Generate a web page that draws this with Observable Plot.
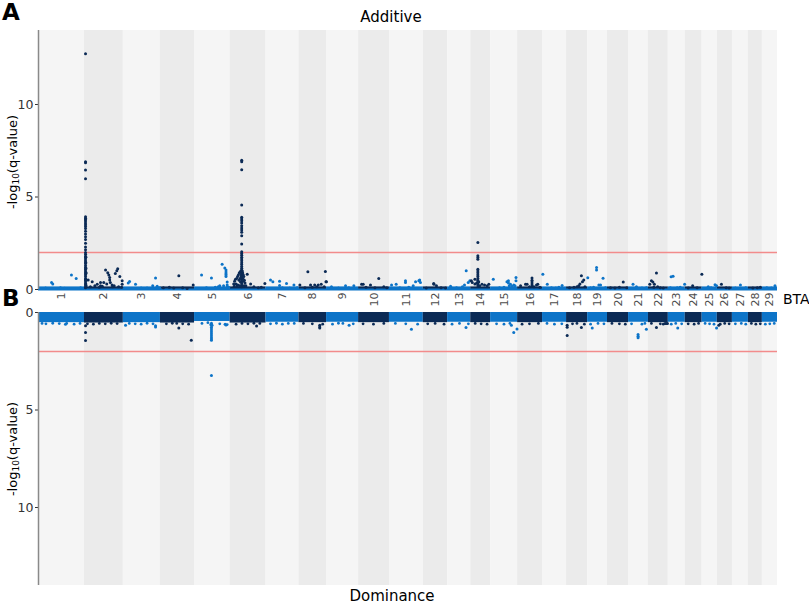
<!DOCTYPE html>
<html><head><meta charset="utf-8">
<script src="https://cdn.jsdelivr.net/npm/d3@7"></script>
<script src="https://cdn.jsdelivr.net/npm/@observablehq/plot@0.6"></script>
<style>
body{margin:0;background:#fff;font-family:"DejaVu Sans",sans-serif;}
#wrap{position:relative;width:809px;height:605px;overflow:hidden;background:#fff;}
.lbl{position:absolute;white-space:nowrap;color:#000;}
.plot{position:absolute;left:0;}
.ylab{position:absolute;white-space:nowrap;font-size:13px;color:#000;transform:translate(-50%,-50%) rotate(-90deg);}
.ylab sub{font-size:9px;vertical-align:-2px;}
</style></head><body>
<div id="wrap">
  <div class="lbl" style="left:2px;top:-1px;font-size:23px;font-weight:bold;">A</div>
  <div class="lbl" style="left:2px;top:285px;font-size:23px;font-weight:bold;">B</div>
  <div class="lbl" style="left:391px;top:8px;font-size:15px;transform:translateX(-50%);">Additive</div>
  <div class="lbl" style="left:392px;top:587px;font-size:15px;transform:translateX(-50%);">Dominance</div>
  <div class="lbl" style="left:783px;top:291px;font-size:14px;">BTA</div>
  <div class="ylab" style="left:13px;top:162px;">-log<sub>10</sub>(q-value)</div>
  <div class="ylab" style="left:13px;top:449px;">-log<sub>10</sub>(q-value)</div>
  <div id="pa" class="plot" style="top:0px;"></div>
  <div id="pb" class="plot" style="top:311px;"></div>
</div>
<script>
// ---------- data ----------
const chroms = [1,2,3,4,5,6,7,8,9,10,11,12,13,14,15,16,17,18,19,20,21,22,23,24,25,26,27,28,29];
const chrLen = [155,131,125,115,120,121,111,93,108,104,114,82,78,67,91,84,81,71,67,71,67,67,57,57,51,51,54,47,51];
const yTicks = [0,5,10];
const threshold = 2;

// peak columns in the additive panel: [chromosome, position]
const peakBTA2 = [2, 3.5];
const peakBTA2Values = [12.74,6.91,6.85,6.46,5.98,3.93,3.85,3.78,3.7,3.6,3.5,3.4,3.3,3.15,3.0,2.85,2.7,2.5,2.3,2.15,2.0,1.9,1.8,1.7,1.6,1.5,1.4,1.3,1.2,1.1,1.0,0.9,0.8,0.7,0.6,0.5,0.4,0.3,0.2,0.1];
const peakBTA6 = [6, 39];
const peakBTA6Values = [6.98,6.9,6.47,4.57,3.9,3.81,3.72,3.59,3.45,3.33,3.21,3.09,2.91,2.46,2.04,1.95,1.85,1.75,1.65,1.55,1.45,1.35,1.25,1.15,1.05,0.95,0.85,0.75,0.65,0.55,0.45,0.35,0.25,0.15];
const peakBTA14 = [14, 24];
const peakBTA14Values = [2.54,1.82,1.73,1.64,1.1,1.0,0.9,0.8,0.7,0.6,0.5,0.4,0.3,0.2];

// other additive SNPs: [chromosome, position, -log10(q)]
const additiveOther = [
 [1,24,0.08],[1,44,0.38],[1,48,0.3],[1,74,0.1],[1,88,0.07],[1,101,0.06],[1,111,0.79],[1,127,0.6],[1,142,0.1],
 [2,4.5,1.75],[2,4.5,1.45],[2,4.5,1.15],[2,4.5,0.85],[2,4.5,0.55],[2,4.5,0.3],[2,5.5,0.9],[2,5.5,0.5],[2,5.5,0.2],
 [2,12.5,0.51],[2,20,0.15],[2,26,0.42],[2,35,0.2],[2,43,0.29],[2,50,0.12],[2,54,0.38],[2,54,0.2],[2,60,0.18],[2,65,0.38],
 [2,71,1.05],[2,75,0.3],[2,78.5,0.9],[2,82,0.78],[2,85,0.65],[2,85,0.51],[2,87,0.38],[2,93,0.25],[2,95,0.15],[2,100,0.2],
 [2,104,0.87],[2,109,1.02],[2,112,1.12],[2,115,0.15],[2,119,0.7],[2,125,0.12],[2,127,0.47],[2,127,0.29],
 [3,16.5,0.35],[3,21,0.43],[3,41,0.29],[3,60,0.08],[3,80,0.08],[3,99,0.2],[3,108.5,0.62],[3,114,0.17],[3,122,0.1],
 [4,10,0.1],[4,30,0.12],[4,45,0.08],[4,62,0.74],[4,75,0.1],[4,90,0.06],[4,110.5,0.25],
 [5,23.6,0.78],[5,40,0.1],[5,57,0.62],[5,70,0.12],[5,80,0.15],[5,85,0.2],[5,93,1.37],[5,98,0.2],[5,102,1.16],
 [5,106,1.05],[5,106,0.95],[5,106,0.85],[5,106,0.78],[5,106,0.7],[5,110,0.4],[5,110,0.25],[5,110,0.15],[5,115,0.12],
 [6,12,0.3],[6,14,0.18],[6,15,0.45],[6,18,0.55],[6,20,0.3],[6,22,0.6],[6,24,0.2],[6,25,0.7],[6,26,0.25],[6,28,0.8],
 [6,30,0.5],[6,31,0.9],[6,32,0.2],[6,33,0.6],[6,34,0.95],[6,35,0.4],[6,36,1.0],[6,37,0.7],[6,38,0.8],[6,40,0.85],
 [6,41,1.0],[6,42,0.9],[6,43,0.6],[6,44,0.8],[6,45,0.45],[6,46,0.7],[6,47,0.2],[6,48,0.5],[6,50,0.35],[6,53,0.2],
 [6,57.6,0.83],[6,69,0.3],[6,80,0.15],[6,95,0.1],[6,105,0.12],[6,117,0.33],
 [7,15,0.51],[7,23,0.42],[7,45.5,0.45],[7,45.5,0.22],[7,55,0.1],[7,69,0.33],[7,80,0.08],[7,94,0.24],[7,105,0.1],
 [8,3,0.24],[8,20,0.1],[8,30,0.96],[8,39,0.25],[8,45,0.12],[8,53,0.24],[8,60,0.15],[8,65,0.24],[8,75,0.29],[8,85,0.15],[8,89,0.97],[8,91,0.42],[8,92.5,0.42],
 [9,16.5,0.15],[9,40,0.08],[9,64,0.2],[9,75,0.1],[9,92,0.2],
 [10,10,0.29],[10,15.5,0.29],[10,25,0.12],[10,40,0.25],[10,55,0.1],[10,68,0.6],[10,85,0.15],[10,95,0.1],
 [11,7,0.25],[11,22.6,0.29],[11,35,0.1],[11,54,0.47],[11,54,0.38],[11,65,0.12],[11,80,0.2],[11,88,0.42],[11,99,0.47],[11,102,0.51],[11,104.5,0.38],
 [12,10,0.08],[12,35,0.33],[12,36,0.29],[12,44.5,0.2],[12,60,0.1],[12,75,0.08],
 [13,10,0.18],[13,30,0.1],[13,50,0.15],[13,57,0.25],[13,62.7,1.01],[13,69.5,0.38],[13,75,0.47],
 [14,2,0.47],[14,5,0.38],[14,14,0.56],[14,14,0.3],[14,20,0.35],[14,27,0.4],[14,30,0.2],[14,38,0.29],[14,46.5,0.25],[14,55.6,0.2],[14,61,0.29],
 [15,9,0.56],[15,30,0.1],[15,45,0.12],[15,55,0.42],[15,60,0.47],[15,60,0.35],[15,63,0.2],[15,67,0.29],[15,72,0.18],[15,78,0.25],[15,82,0.2],[15,85.5,0.65],[15,85.5,0.47],
 [16,10,0.2],[16,26.6,0.29],[16,32,0.29],[16,40,0.15],[16,48.5,0.62],[16,48.5,0.5],[16,48.5,0.4],[16,48.5,0.3],[16,48.5,0.2],[16,55,0.15],[16,63.7,0.24],[16,68,0.29],[16,75,0.12],
 [17,1,0.82],[17,16,0.29],[17,30,0.1],[17,45,0.08],[17,55,0.12],[17,66,0.22],
 [18,10,0.1],[18,25,0.12],[18,35,0.15],[18,41,0.2],[18,45,0.3],[18,50,0.74],[18,53.5,0.42],[18,58,0.52],[18,62,0.15],
 [19,0.5,0.63],[19,10,0.1],[19,20,0.12],[19,30,1.19],[19,30,1.05],[19,37.8,0.24],[19,43.5,0.24],[19,52,0.61],[19,60,0.1],
 [20,10,0.1],[20,25,0.08],[20,40,0.12],[20,53,0.4],[20,65,0.1],
 [21,15,0.29],[21,26.6,0.15],[21,45,0.08],[21,60,0.1],
 [22,4.4,0.29],[22,10,0.47],[22,15,0.4],[22,18,0.12],[22,20,0.29],[22,27,0.89],[22,31,0.15],[22,40,0.1],[22,50,0.08],
 [23,7,0.1],[23,9.4,0.69],[23,16,0.71],[23,30,0.1],[23,40,0.12],[23,55,0.29],
 [24,10,0.08],[24,25,0.2],[24,40,0.1],[24,56,0.83],
 [25,20.5,0.15],[25,30,0.1],[25,43.5,0.26],[25,48.5,0.2],
 [26,14,0.29],[26,30,0.1],[26,40,0.08],
 [27,10,0.08],[27,27,0.24],[27,45,0.1],
 [28,15,0.08],[28,30,0.1],[28,40,0.12],
 [29,15,0.1],[29,30,0.08],[29,42.5,0.2]
];

// dominance panel: depth of the dense band of SNPs per chromosome
const dominanceDepth = [0.52,0.54,0.52,0.54,0.46,0.54,0.5,0.52,0.5,0.52,0.5,0.52,0.5,0.52,0.5,0.52,0.5,0.52,0.5,0.52,0.5,0.52,0.5,0.52,0.5,0.52,0.5,0.52,0.5];
// SNPs along the lower edge of the band: [chromosome, position, -log10(q)]
const dominanceEdge = [
 [1,12,0.56],[1,25,0.58],[1,48,0.55],[1,70,0.57],[1,95,0.56],[1,120,0.6],[1,140,0.56],
 [2,10,0.58],[2,30,0.6],[2,50,0.56],[2,70,0.58],[2,90,0.55],[2,110,0.57],
 [3,20,0.56],[3,40,0.58],[3,60,0.6],[3,80,0.55],[3,100,0.58],
 [4,20,0.58],[4,40,0.55],[4,55,0.56],[4,75,0.58],[4,95,0.6],
 [5,25,0.56],[5,45,0.52],[5,85,0.58],[5,110,0.62],
 [6,20,0.6],[6,40,0.56],[6,60,0.58],[6,80,0.55],[6,100,0.56],
 [7,15,0.58],[7,35,0.55],[7,55,0.6],[7,75,0.56],[7,95,0.56],
 [8,15,0.56],[8,45,0.58],[8,80,0.6],
 [9,20,0.6],[9,40,0.55],[9,55,0.56],[9,90,0.58],
 [10,15,0.58],[10,50,0.6],[10,85,0.56],
 [11,20,0.56],[11,55,0.58],[11,95,0.6],
 [12,15,0.58],[12,40,0.56],[12,70,0.6],
 [13,15,0.6],[13,40,0.56],[13,70,0.58],
 [14,15,0.56],[14,35,0.58],[14,55,0.6],
 [15,20,0.58],[15,45,0.6],[15,65,0.56],
 [16,15,0.6],[16,40,0.58],[16,70,0.56],
 [17,15,0.56],[17,40,0.6],[17,65,0.58],
 [18,20,0.58],[18,35,0.56],[18,60,0.6],
 [19,10,0.6],[19,35,0.56],[19,55,0.58],
 [20,15,0.56],[20,40,0.58],[20,60,0.6],
 [21,10,0.58],[21,45,0.6],[21,55,0.56],
 [22,10,0.56],[22,40,0.58],[22,50,0.6],
 [23,10,0.6],[23,25,0.56],[23,45,0.58],
 [24,10,0.58],[24,30,0.6],[24,45,0.56],
 [25,10,0.56],[25,25,0.58],[25,40,0.6],
 [26,10,0.6],[26,25,0.56],[26,40,0.58],
 [27,10,0.58],[27,30,0.56],[27,45,0.6],
 [28,10,0.56],[28,25,0.6],[28,40,0.58],
 [29,10,0.6],[29,25,0.58],[29,40,0.56]
];
// dominance SNPs below the band: [chromosome, position, -log10(q)]
const dominanceOther = [
 [1,91,0.6],
 [2,3.5,0.68],[2,3.5,1.02],[2,3.5,1.43],
 [3,7.4,0.65],[3,108.5,0.68],[3,108.5,0.74],
 [4,62,0.79],[4,104,1.42],
 [5,57,0.55],[5,57,0.65],[5,57,0.75],[5,57,0.85],[5,57,0.95],[5,57,1.05],[5,57,1.15],[5,57,1.25],[5,57,1.35],[5,57,1.42],[5,57,3.23],
 [5,55,0.62],[5,59,0.66],[5,103,0.6],[5,106,0.64],
 [6,89,0.69],
 [8,70,0.65],[8,70,0.74],[8,70,0.8],
 [9,76,0.65],
 [11,74,0.86],
 [13,62,0.77],
 [15,70,0.65],[15,78,1.02],[15,89,0.85],
 [18,2,0.65],[18,2,0.75],[18,2,1.18],[18,50,0.77],
 [19,15.5,0.79],
 [21,32,1.13],[21,32,1.22],[21,32,1.3],[21,60,0.86],
 [22,27,0.77],[22,56,0.56],[22,60,0.56],[22,64,0.56],
 [23,31.7,0.79],
 [25,48.5,0.79],
 [26,5,0.65]
];

// ---------- derived ----------
const blue = "#0d74c8", navy = "#0b2a55";
const starts = [0, ...d3.cumsum(chrLen)].slice(0, chrLen.length);
const total = d3.sum(chrLen);
const chrColor = c => (c % 2 ? blue : navy);
const bgColor = c => (c % 2 ? "#f5f5f5" : "#ebebeb");
const chrInfo = chroms.map((c, i) => ({chr: c, x1: starts[i], x2: starts[i] + chrLen[i], mid: starts[i] + chrLen[i] / 2, depth: dominanceDepth[i]}));
const labelOf = new Map(chrInfo.map(d => [d.mid, String(d.chr)]));
const toPt = ([c, p, v]) => ({x: starts[c - 1] + p, v, fill: chrColor(c)});

const addData = [
  ...peakBTA2Values.map(v => [peakBTA2[0], peakBTA2[1], v]),
  ...peakBTA6Values.map(v => [peakBTA6[0], peakBTA6[1], v]),
  ...peakBTA14Values.map(v => [peakBTA14[0], peakBTA14[1], v]),
  ...additiveOther
].map(toPt);
const domEdge = dominanceEdge.map(toPt);
const domData = dominanceOther.map(toPt);

const common = {
  width: 809, marginLeft: 38, marginRight: 32,
  x: {domain: [0, total], axis: null},
  style: {background: "transparent", fontFamily: "DejaVu Sans, sans-serif", overflow: "visible"}
};
const bgMark = Plot.rect(chrInfo, {x1: "x1", x2: "x2", y1: 0, y2: 14, fill: d => bgColor(d.chr)});
const yAxisLine = Plot.ruleX([0], {y1: 0, y2: 14, stroke: "#8a8a8a", strokeWidth: 1.5});
const yAxis = Plot.axisY({ticks: yTicks, tickSize: 3, tickPadding: 2, fontSize: 12.5, color: "#333", label: null});

const pa = Plot.plot({
  ...common, height: 311, marginTop: 30, marginBottom: 22,
  y: {domain: [0, 14], axis: null},
  marks: [
    bgMark,
    Plot.ruleY([threshold], {stroke: "#f28b8b", strokeWidth: 1.6}),
    Plot.rect(chrInfo, {x1: "x1", x2: "x2", y1: 0, y2: 0.14, fill: d => chrColor(d.chr)}),
    Plot.ruleY([0], {stroke: blue, strokeWidth: 2}),
    Plot.dot(addData, {x: "x", y: "v", r: 1.5, fill: "fill", stroke: null}),
    yAxis,
    Plot.axisX({ticks: chrInfo.map(d => d.mid), tickFormat: d => labelOf.get(d), tickSize: 0, tickPadding: 3,
                tickRotate: -90, fontSize: 11, color: "#4d4d4d", label: null}),
    yAxisLine
  ]
});
document.getElementById("pa").appendChild(pa);

const pb = Plot.plot({
  ...common, height: 294, marginTop: 1, marginBottom: 20,
  y: {domain: [0, 14], reverse: true, axis: null},
  marks: [
    bgMark,
    Plot.ruleY([threshold], {stroke: "#f28b8b", strokeWidth: 1.6}),
    Plot.rect(chrInfo, {x1: "x1", x2: "x2", y1: 0, y2: "depth", fill: d => chrColor(d.chr)}),
    Plot.dot(domEdge, {x: "x", y: "v", r: 1.4, fill: "fill", stroke: null}),
    Plot.dot(domData, {x: "x", y: "v", r: 1.5, fill: "fill", stroke: null}),
    yAxis,
    yAxisLine
  ]
});
document.getElementById("pb").appendChild(pb);
</script>
</body></html>
